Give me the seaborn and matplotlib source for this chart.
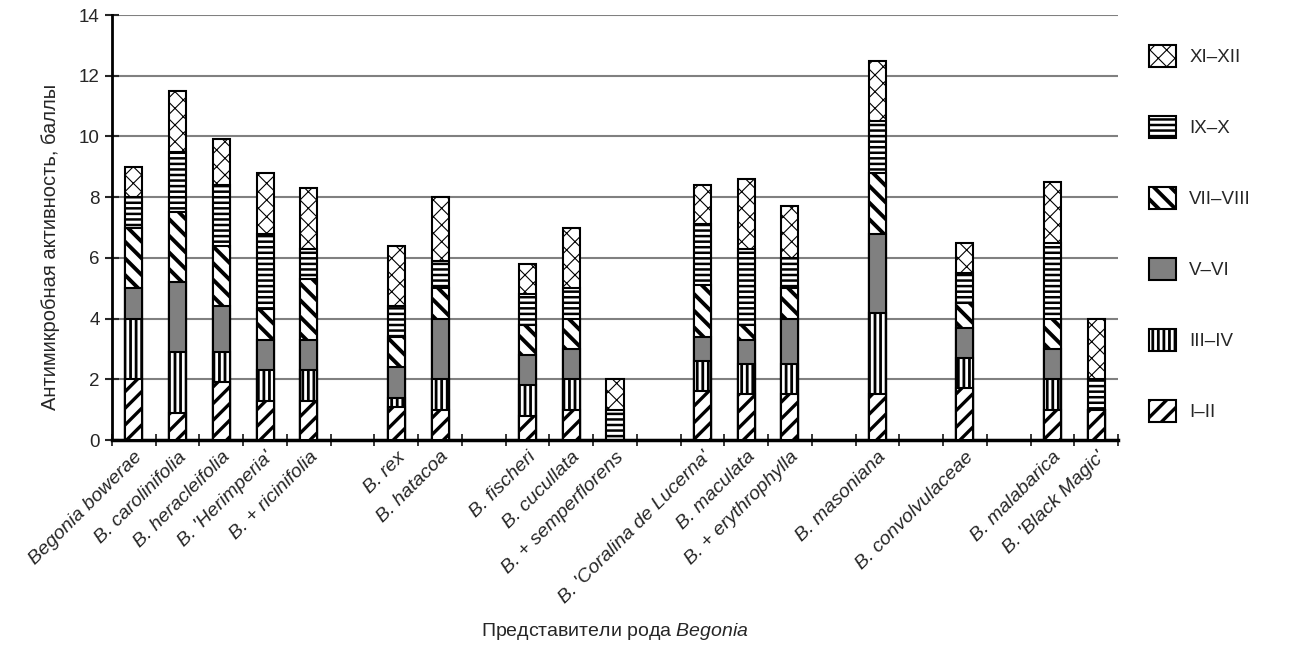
import matplotlib
matplotlib.use("Agg")
import matplotlib.pyplot as plt
import matplotlib.patches as mpatches
from matplotlib.ticker import FixedLocator, MultipleLocator
import numpy as np
import pandas as pd
import seaborn as sns

# slots along the x axis; blank strings of different length are the gaps between groups
species = [
    "Begonia bowerae", "B. carolinifolia", "B. heracleifolia", "B. 'Herimperia'",
    "B. + ricinifolia", " ", "B. rex", "B. hatacoa", "  ", "B. fischeri",
    "B. cucullata", "B. + semperflorens", "   ", "B. 'Coralina de Lucerna'",
    "B. maculata", "B. + erythrophylla", "    ", "B. masoniana", "     ",
    "B. convolvulaceae", "      ", "B. malabarica", "B. 'Black Magic'",
]

# activity per period (scores), gaps are NaN
nan = np.nan
m_I_II = [2.0, 0.9, 1.9, 1.3, 1.3, nan, 1.1, 1.0, nan, 0.8, 1.0, 0.0, nan, 1.6, 1.5, 1.5, nan, 1.5, nan, 1.7, nan, 1.0, 1.0]
m_III_IV = [2.0, 2.0, 1.0, 1.0, 1.0, nan, 0.3, 1.0, nan, 1.0, 1.0, 0.0, nan, 1.0, 1.0, 1.0, nan, 2.7, nan, 1.0, nan, 1.0, 0.0]
m_V_VI = [1.0, 2.3, 1.5, 1.0, 1.0, nan, 1.0, 2.0, nan, 1.0, 1.0, 0.0, nan, 0.8, 0.8, 1.5, nan, 2.6, nan, 1.0, nan, 1.0, 0.0]
m_VII_VIII = [2.0, 2.3, 2.0, 1.0, 2.0, nan, 1.0, 1.0, nan, 1.0, 1.0, 0.0, nan, 1.7, 0.5, 1.0, nan, 2.0, nan, 0.8, nan, 1.0, 0.0]
m_IX_X = [1.0, 2.0, 2.0, 2.5, 1.0, nan, 1.0, 0.9, nan, 1.0, 1.0, 1.0, nan, 2.0, 2.5, 1.0, nan, 1.7, nan, 1.0, nan, 2.5, 1.0]
m_XI_XII = [1.0, 2.0, 1.5, 2.0, 2.0, nan, 2.0, 2.1, nan, 1.0, 2.0, 1.0, nan, 1.3, 2.3, 1.7, nan, 2.0, nan, 1.0, nan, 2.0, 2.0]

periods = ["I–II", "III–IV", "V–VI", "VII–VIII", "IX–X", "XI–XII"]
series = [m_I_II, m_III_IV, m_V_VI, m_VII_VIII, m_IX_X, m_XI_XII]

# fill, hatch, hatch line width for each period
styles = {
    "I–II": ("white", "//", 2.4),
    "III–IV": ("white", "|||", 2.0),
    "V–VI": ("#808080", None, 1.0),
    "VII–VIII": ("white", "\\\\", 2.8),
    "IX–X": ("white", "---", 1.8),
    "XI–XII": ("white", "xx", 0.8),
}

df = pd.DataFrame({"species": species})
cum = np.zeros(len(species))
for name, vals in zip(periods, series):
    cum = cum + np.array(vals)
    df[name] = cum

sns.set_style("white")
plt.rcParams["font.family"] = ["Liberation Sans", "DejaVu Sans"]
plt.rcParams["mathtext.fontset"] = "custom"
plt.rcParams["mathtext.rm"] = "Liberation Sans"
plt.rcParams["mathtext.it"] = "Liberation Sans:italic"

fig = plt.figure(figsize=(13.07, 6.45), dpi=100)
ax = fig.add_axes([0.0857, 0.3178, 0.7697, 0.6589])

# draw cumulative heights from the top period down, each one covering the next
for name in reversed(periods):
    face, hatch, hlw = styles[name]
    n_before = len(ax.patches)
    with plt.rc_context({"hatch.linewidth": hlw}):
        sns.barplot(
            data=df, x="species", y=name, order=species, color=face,
            saturation=1, edgecolor="black", linewidth=1.5, hatch=hatch,
            width=0.39, errorbar=None, ax=ax, zorder=3,
        )
    for p in ax.patches[n_before:]:
        if hasattr(p, "set_hatch_linewidth"):
            p.set_hatch_linewidth(hlw)

ax.set_ylim(0, 14)
ax.set_xlim(-0.5, len(species) - 0.5)
ax.yaxis.set_major_locator(MultipleLocator(2))
ax.grid(axis="y", color="#808080", linewidth=1.5, zorder=0)
ax.grid(axis="x", visible=False)
ax.set_axisbelow(True)

for side in ["top", "right"]:
    ax.spines[side].set_visible(False)
ax.spines["left"].set_linewidth(2)
ax.spines["bottom"].set_linewidth(2.5)
ax.spines["left"].set_color("black")
ax.spines["bottom"].set_color("black")

ax.tick_params(axis="y", direction="inout", length=10, width=1.5, labelsize=13.5, pad=4, left=True)
ax.tick_params(axis="x", which="major", length=0, labelsize=14, pad=6)
ax.xaxis.set_minor_locator(FixedLocator(np.arange(-0.5, len(species), 1)))
ax.tick_params(axis="x", which="minor", direction="inout", length=9, width=1.3, bottom=True)

ax.set_xticks(range(len(species)))
ax.set_xticklabels(species, rotation=45, ha="right", rotation_mode="anchor", style="italic")

ax.set_ylabel("Антимикробная активность, баллы", fontsize=14.5)
ax.yaxis.set_label_coords(-0.052, 0.455)
ax.set_xlabel("Представители рода $\\mathit{Begonia}$", fontsize=14)
ax.xaxis.set_label_coords(0.5, -0.425)

handles = [
    mpatches.Patch(facecolor=styles[name][0], edgecolor="black", hatch=styles[name][1],
                   linewidth=1.5, label=name)
    for name in reversed(periods)
]
leg = fig.legend(
    handles=handles, loc="upper left", bbox_to_anchor=(0.872, 0.945),
    frameon=False, fontsize=13.5, handlelength=1.45, handleheight=1.45,
    labelspacing=2.6, handletextpad=0.7, borderpad=0,
)
for p, name in zip(leg.get_patches(), reversed(periods)):
    hlw = styles[name][2]
    if hasattr(p, "set_hatch_linewidth"):
        p.set_hatch_linewidth(hlw)
    elif hasattr(p, "_hatch_linewidth"):
        p._hatch_linewidth = hlw

fig.savefig("out.png", dpi=100)
